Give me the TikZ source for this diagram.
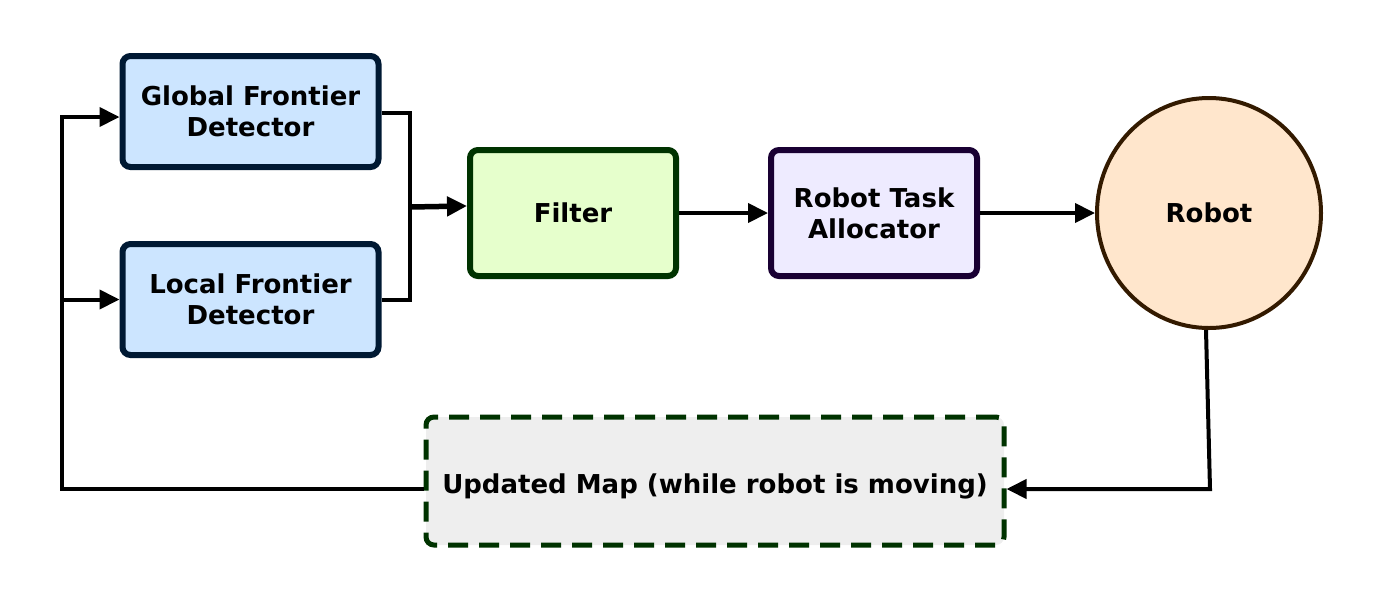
\documentclass[tikz,border=0pt]{standalone}
\usepackage{fontspec}
\setmainfont{DejaVu Sans}
\usetikzlibrary{arrows.meta,positioning,shapes.geometric}

\definecolor{detfill}{HTML}{CCE5FF}
\definecolor{detdraw}{HTML}{001933}
\definecolor{filtfill}{HTML}{E6FFCC}
\definecolor{filtdraw}{HTML}{003300}
\definecolor{allocfill}{HTML}{EEEBFF}
\definecolor{allocdraw}{HTML}{190033}
\definecolor{robfill}{HTML}{FFE6CC}
\definecolor{robdraw}{HTML}{331A00}
\definecolor{mapfill}{HTML}{EEEEEE}

\begin{document}
\begin{tikzpicture}[
  x=1pt, y=-1pt,
  every node/.style={align=center, font=\fontsize{26}{31}\selectfont\bfseries},
  detector/.style={rectangle, rounded corners=8pt, draw=detdraw, line width=6pt, fill=detfill, minimum width=256pt, minimum height=111pt},
  stage/.style={rectangle, rounded corners=8pt, line width=6pt, minimum width=206pt, minimum height=126pt},
  robotnode/.style={ellipse, draw=robdraw, fill=robfill, line width=4pt, minimum width=224pt, minimum height=230pt},
  mapbox/.style={rectangle, rounded corners=8pt, draw=filtdraw, fill=mapfill, line width=5pt, dash pattern=on 20pt off 11pt, minimum width=578pt, minimum height=128pt, text height=30pt, text depth=6pt},
  arrow/.style={-{Triangle[length=20pt, width=19pt]}, line width=4pt},
  link/.style={line width=4pt}
]
\useasboundingbox (0,0) rectangle (1376,598);

% --- DETECTORS ---
\node[detector] (global) at (250.5, 111.5) {Global Frontier\\Detector};
\node[detector] (local) at (250.5, 299.5) {Local Frontier\\Detector};

% --- PIPELINE ---
\node[stage, draw=filtdraw, fill=filtfill] (filter) at (573, 213) {Filter};
\node[stage, draw=allocdraw, fill=allocfill] (alloc) at (874, 213) {Robot Task\\Allocator};
\node[robotnode] (robot) at (1209, 213) {Robot};

% --- MAP ---
\node[mapbox] (map) at (715, 481) {Updated Map (while robot is moving)};

% Merge into filter
\coordinate (merge) at (410, 207);
\draw[link] ([yshift=-1.5pt]global.east) -| (merge);
\draw[link] (local.east) -| (merge);
\draw[arrow, line width=5.5pt] (merge) -- ([yshift=7pt]filter.west);

\draw[arrow] (filter) -- (alloc);
\draw[arrow] (alloc) -- (robot);

% Feedback loop
\coordinate (turn) at (1210, 489);
\draw[arrow] ([xshift=-3pt]robot.south) -- (turn) -- ([yshift=-8pt]map.east);
\coordinate (left) at (62, 299.5);
\draw[link] ([yshift=-8pt]map.west) -| (left);
\draw[arrow] (left) -- (local.west);
\draw[arrow] (left) |- ([yshift=-5.5pt]global.west);

\end{tikzpicture}
\end{document}
